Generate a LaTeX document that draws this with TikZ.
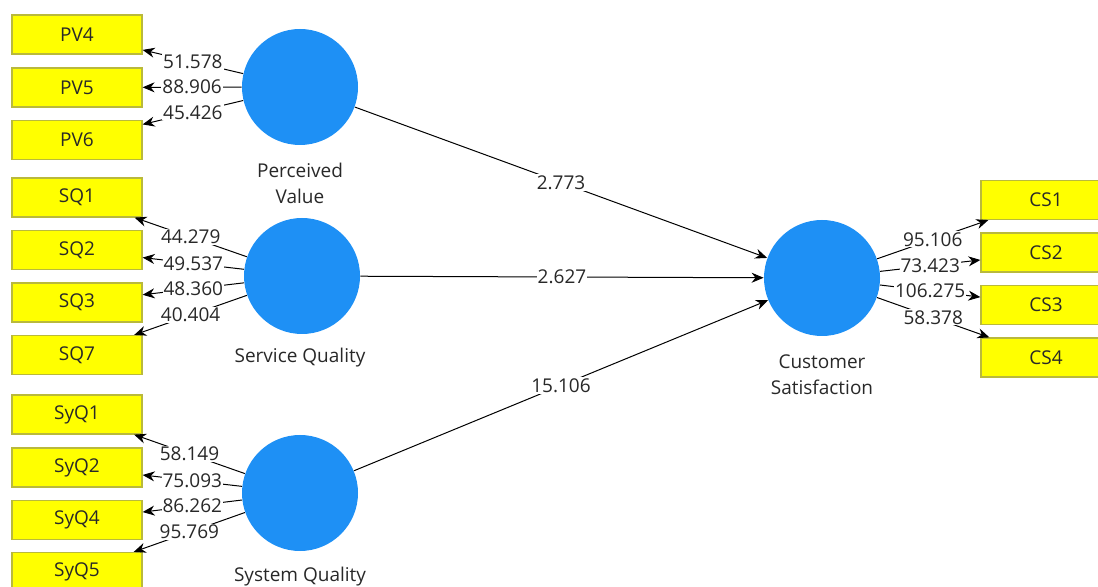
\documentclass[tikz,border=0pt]{standalone}
\usepackage{fontspec}
\setmainfont{Open Sans}
\usetikzlibrary{arrows.meta}
\definecolor{lvc}{RGB}{30,144,245}
\definecolor{mvc}{RGB}{255,255,0}
\definecolor{mvb}{RGB}{185,185,60}
\definecolor{txt}{RGB}{40,40,40}
\begin{document}
\begin{tikzpicture}[x=0.5pt,y=-0.5pt,
  font=\fontsize{9.5}{13}\selectfont,
  lv/.style={circle, fill=lvc, minimum size=58pt, inner sep=0pt},
  mv/.style={rectangle, fill=mvc, draw=mvb, line width=0.6pt, minimum width=65pt, minimum height=19.5pt, inner sep=0pt, text=txt},
  ld/.style={draw=black, line width=0.5pt, -{Stealth[length=6pt,width=5pt]}},
  lbl/.style={fill=white, inner sep=0.5pt, text=txt, midway},
  lvcap/.style={text=txt, align=center, inner sep=0pt}]
\useasboundingbox (0,0) rectangle (1098,587);
\clip (0,0) rectangle (1098,587);
% latent variables
\node[lv] (pv) at (300,87) {};
\node[lv] (sq) at (302,276) {};
\node[lv] (syq) at (300,493) {};
\node[lv] (cs) at (822,278) {};
\node[lvcap] (pvl) at (300,183) {Perceived\\Value};
\node[lvcap] (sql) at (300,358) {Service Quality};
\node[lvcap] (syql) at (300,577) {System Quality};
\node[lvcap] (csl) at (822,375) {Customer\\Satisfaction};
% indicators
\node[mv] (pv4) at (77,34.5) {PV4};
\node[mv] (pv5) at (77,87.5) {PV5};
\node[mv] (pv6) at (77,140) {PV6};
\node[mv] (sq1) at (77,197.5) {SQ1};
\node[mv] (sq2) at (77,250) {SQ2};
\node[mv] (sq3) at (77,302.5) {SQ3};
\node[mv] (sq7) at (77,355) {SQ7};
\node[mv] (syq1) at (77,414.5) {SyQ1};
\node[mv] (syq2) at (77,467.5) {SyQ2};
\node[mv] (syq4) at (77,520) {SyQ4};
\node[mv] (syq5) at (77,572) {SyQ5};
\node[mv] (cs1) at (1046,200) {CS1};
\node[mv] (cs2) at (1046,252.5) {CS2};
\node[mv] (cs3) at (1046,305) {CS3};
\node[mv] (cs4) at (1046,357.5) {CS4};
% outer loadings
\draw[ld] (pv) -- node[lbl]{51.578} (pv4);
\draw[ld] (pv) -- node[lbl]{88.906} (pv5);
\draw[ld] (pv) -- node[lbl]{45.426} (pv6);
\draw[ld] (sq) -- node[lbl]{44.279} (sq1);
\draw[ld] (sq) -- node[lbl]{49.537} (sq2);
\draw[ld] (sq) -- node[lbl]{48.360} (sq3);
\draw[ld] (sq) -- node[lbl]{40.404} (sq7);
\draw[ld] (syq) -- node[lbl]{58.149} (syq1);
\draw[ld] (syq) -- node[lbl]{75.093} (syq2);
\draw[ld] (syq) -- node[lbl]{86.262} (syq4);
\draw[ld] (syq) -- node[lbl]{95.769} (syq5);
\draw[ld] (cs) -- node[lbl]{95.106} (cs1);
\draw[ld] (cs) -- node[lbl]{73.423} (cs2);
\draw[ld] (cs) -- node[lbl]{106.275} (cs3);
\draw[ld] (cs) -- node[lbl]{58.378} (cs4);
% structural paths
\draw[ld] (pv) -- node[lbl]{2.773} (cs);
\draw[ld] (sq) -- node[lbl]{2.627} (cs);
\draw[ld] (syq) -- node[lbl]{15.106} (cs);
\end{tikzpicture}
\end{document}
